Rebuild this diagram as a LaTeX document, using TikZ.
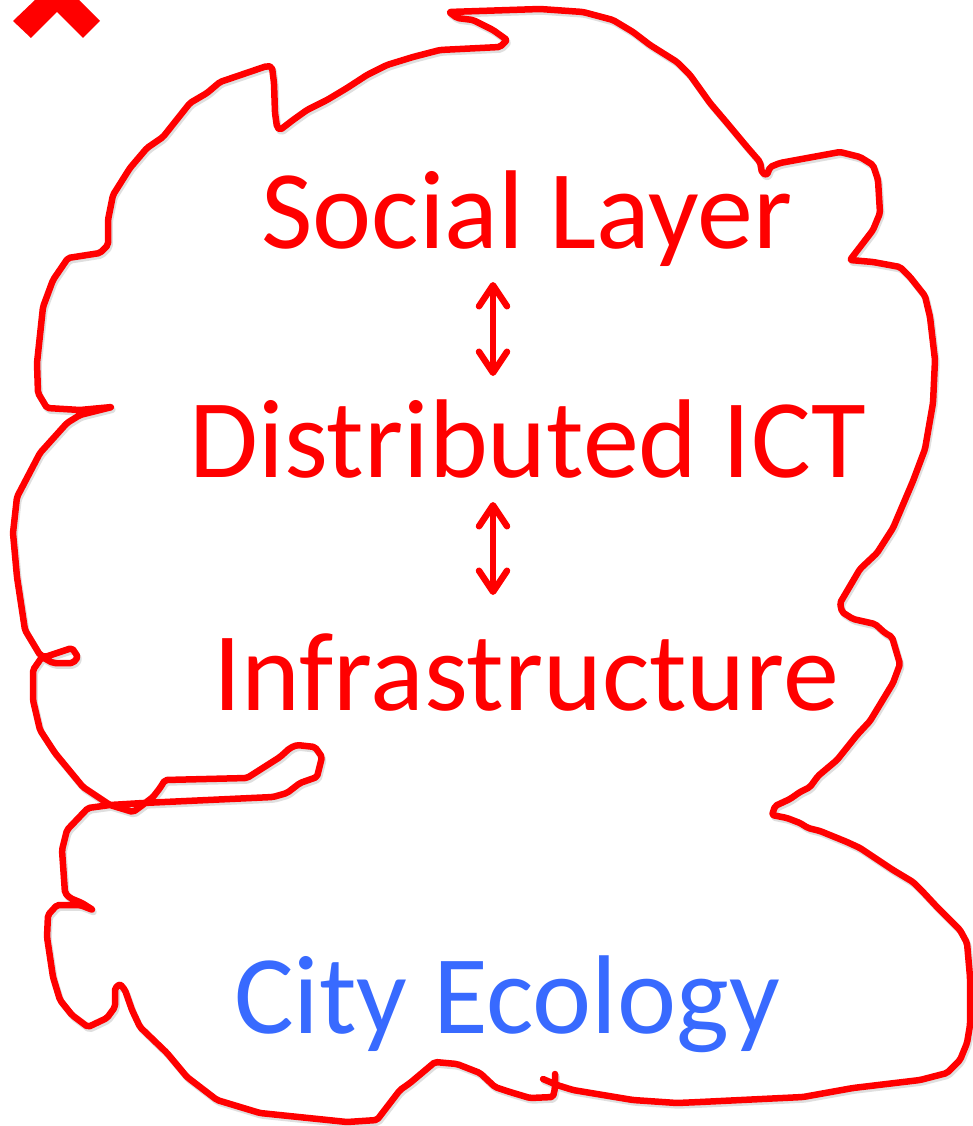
\documentclass[tikz,border=0pt]{standalone}
\usepackage{fontspec}
\setmainfont{Carlito}
\usetikzlibrary{arrows.meta}
\definecolor{ecoblue}{RGB}{56,106,255}
\tikzset{
  outline/.style={draw=red, line width=6.5pt, line join=round, line cap=round, rounded corners=2pt},
  shade/.style={draw=black!25, line width=6.5pt, line join=round, line cap=round, rounded corners=2pt, opacity=0.5},
  layer/.style={text=red, font=\fontsize{112}{120}\selectfont, inner sep=0pt},
  eco/.style={text=ecoblue, font=\fontsize{112}{120}\selectfont, inner sep=0pt},
  link/.style={draw=red, line width=6.5pt, line cap=round,
    {Straight Barb[length=21pt, width=28pt, line width=6.5pt, round]}-{Straight Barb[length=21pt, width=28pt, line width=6.5pt, round]}},
}
\begin{document}
\begin{tikzpicture}[x=1pt, y=-1pt]
\useasboundingbox (0,0) rectangle (972,1126);
% corner chevron
\fill[red] (13,21) -- (31,38) -- (57,12) -- (83,38) -- (100,21) -- (79,0) -- (35,0) -- cycle;
% outline
\def\outlinepath{(543,1079) -- (557,1085) -- (573,1090) -- (633,1100) -- (677,1103) -- (700,1102) -- (803,1097) -- (853,1088) -- (920,1080) -- (947,1073) -- (960,1060) -- (967,1043) -- (970,1025) -- (970,977) -- (967,943) -- (960,930) -- (937,907) -- (923,892) -- (913,882) -- (893,870) -- (860,848) -- (847,842) -- (820,831) -- (808,828) -- (800,823) -- (787,818) -- (772,815) -- (775,806) -- (790,799) -- (800,792) -- (810,787) -- (818,776) -- (837,760) -- (857,735) -- (870,721) -- (893,683) -- (900,664) -- (892,637) -- (885,633) -- (875,624) -- (853,619) -- (842,612) -- (840,603) -- (860,569) -- (877,553) -- (893,528) -- (913,481) -- (925,449) -- (933,403) -- (935,360) -- (930,317) -- (925,296) -- (910,277) -- (900,267) -- (873,262) -- (850,260) -- (860,247) -- (873,230) -- (880,213) -- (878,180) -- (873,165) -- (860,157) -- (840,152) -- (780,163) -- (770,167) -- (767,175) -- (762,173) -- (760,162) -- (747,147) -- (727,123) -- (710,103) -- (690,75) -- (677,62) -- (650,45) -- (633,32) -- (613,20) -- (583,12) -- (540,9) -- (449,12) -- (457,18) -- (473,20) -- (493,30) -- (507,40) -- (500,47) -- (440,50) -- (413,57) -- (387,65) -- (367,75) -- (347,88) -- (327,100) -- (307,110) -- (293,120) -- (280,130) -- (277,127) -- (275,113) -- (274,83) -- (272,67) -- (267,66) -- (220,82) -- (207,93) -- (190,103) -- (163,137) -- (147,148) -- (130,168) -- (113,195) -- (108,220) -- (108,245) -- (100,253) -- (68,258) -- (53,280) -- (43,307) -- (37,363) -- (38,393) -- (47,408) -- (80,410) -- (112,407) -- (80,415) -- (67,423) -- (40,453) -- (17,497) -- (13,533) -- (17,577) -- (25,630) -- (40,655) -- (45,657) -- (72,648) -- (78,657) -- (73,663) -- (53,663) -- (42,657) -- (33,670) -- (33,700) -- (40,730) -- (55,753) -- (83,787) -- (110,805) -- (133,812) -- (140,807) -- (153,797) -- (160,788) -- (165,780) -- (247,778) -- (280,757) -- (290,748) -- (297,745) -- (315,747) -- (322,757) -- (317,777) -- (300,783) -- (287,793) -- (273,797) -- (143,803) -- (110,805) -- (88,808) -- (67,830) -- (62,850) -- (65,893) -- (70,898) -- (82,903) -- (93,910) -- (80,905) -- (57,905) -- (48,915) -- (47,937) -- (53,977) -- (60,1000) -- (72,1015) -- (88,1027) -- (107,1018) -- (115,1007) -- (115,988) -- (120,984) -- (125,990) -- (132,1010) -- (140,1027) -- (167,1053) -- (187,1077) -- (217,1100) -- (260,1113) -- (347,1122) -- (377,1120) -- (400,1090) -- (410,1083) -- (435,1062) -- (457,1064) -- (480,1073) -- (495,1087) -- (510,1092) -- (530,1098) -- (553,1097) -- (555,1088) -- (555,1074)}
\draw[shade, shift={(1.5pt,-2.5pt)}] \outlinepath;
\draw[outline] \outlinepath;
% texts
\node[layer, anchor=base] (social) at (527,248) {Social Layer};
\node[layer, anchor=base] (ict) at (528,477) {Distributed ICT};
\node[layer, anchor=base] (infra) at (526,710) {Infrastructure};
\node[eco, anchor=base] (eco) at (507,1033) {City Ecology};
% arrows
\coordinate (a1t) at (493,282);
\coordinate (a1b) at (493,376);
\coordinate (a2t) at (493,502);
\coordinate (a2b) at (493,595);
\draw[link] (a1t) -- (a1b);
\draw[link] (a2t) -- (a2b);
\end{tikzpicture}
\end{document}
